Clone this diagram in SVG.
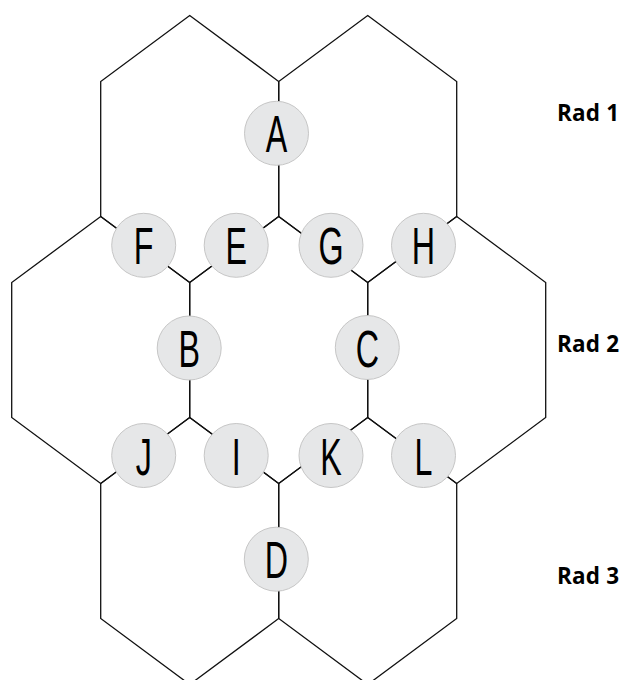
<svg xmlns="http://www.w3.org/2000/svg" width="624" height="680" viewBox="0 0 624 680">
<style>
.hex{fill:none;stroke:#111;stroke-width:1.3;stroke-linejoin:miter}
.n circle{fill:#e6e7e8;stroke:#c6c6c6;stroke-width:1}
.n text{font-family:"Liberation Sans","DejaVu Sans",sans-serif;font-size:52px;fill:#000;text-anchor:middle}
.lbl{font-family:"Open Sans","Liberation Sans",sans-serif;font-weight:bold;font-size:22.5px;fill:#000;letter-spacing:0.2px}
</style>
<rect width="624" height="680" fill="#fff"/>
<g id="connectors">
<polygon class="hex" points="189.7,15.5 278.7,81.5 278.7,216.5 189.7,282.5 100.7,216.5 100.7,81.5"/>
<polygon class="hex" points="367.7,15.5 456.7,81.5 456.7,216.5 367.7,282.5 278.7,216.5 278.7,81.5"/>
<polygon class="hex" points="100.7,216.5 189.7,282.5 189.7,417.5 100.7,483.5 11.7,417.5 11.7,282.5"/>
<polygon class="hex" points="278.7,216.5 367.7,282.5 367.7,417.5 278.7,483.5 189.7,417.5 189.7,282.5"/>
<polygon class="hex" points="456.7,216.5 545.7,282.5 545.7,417.5 456.7,483.5 367.7,417.5 367.7,282.5"/>
<polygon class="hex" points="189.7,417.5 278.7,483.5 278.7,618.5 189.7,684.5 100.7,618.5 100.7,483.5"/>
<polygon class="hex" points="367.7,417.5 456.7,483.5 456.7,618.5 367.7,684.5 278.7,618.5 278.7,483.5"/>
</g>
<g id="node-A" class="n"><circle cx="276.5" cy="133.3" r="32"/><text transform="translate(276.5,152) scale(0.62,1)">A</text></g>
<g id="node-F" class="n"><circle cx="143.7" cy="245.3" r="32"/><text transform="translate(143.7,264) scale(0.62,1)">F</text></g>
<g id="node-E" class="n"><circle cx="236.2" cy="245.3" r="32"/><text transform="translate(236.2,264) scale(0.62,1)">E</text></g>
<g id="node-G" class="n"><circle cx="331" cy="245.3" r="32"/><text transform="translate(331,264) scale(0.62,1)">G</text></g>
<g id="node-H" class="n"><circle cx="423.5" cy="245.3" r="32"/><text transform="translate(423.5,264) scale(0.62,1)">H</text></g>
<g id="node-B" class="n"><circle cx="189.2" cy="348" r="32"/><text transform="translate(189.2,367) scale(0.62,1)">B</text></g>
<g id="node-C" class="n"><circle cx="367.3" cy="347.5" r="32"/><text transform="translate(367.3,366.5) scale(0.62,1)">C</text></g>
<g id="node-J" class="n"><circle cx="143.7" cy="455.5" r="32"/><text transform="translate(143.7,474.5) scale(0.62,1)">J</text></g>
<g id="node-I" class="n"><circle cx="236.2" cy="455.5" r="32"/><text transform="translate(236.2,474.5) scale(0.62,1)">I</text></g>
<g id="node-K" class="n"><circle cx="331" cy="455.5" r="32"/><text transform="translate(331,474.5) scale(0.62,1)">K</text></g>
<g id="node-L" class="n"><circle cx="423.5" cy="455.5" r="32"/><text transform="translate(423.5,474.5) scale(0.62,1)">L</text></g>
<g id="node-D" class="n"><circle cx="276.3" cy="559.2" r="32"/><text transform="translate(276.3,578) scale(0.62,1)">D</text></g>
<g id="labels">
<text class="lbl" x="557" y="121">Rad 1</text>
<text class="lbl" x="557" y="351.5">Rad 2</text>
<text class="lbl" x="557" y="584">Rad 3</text>
</g>
</svg>
